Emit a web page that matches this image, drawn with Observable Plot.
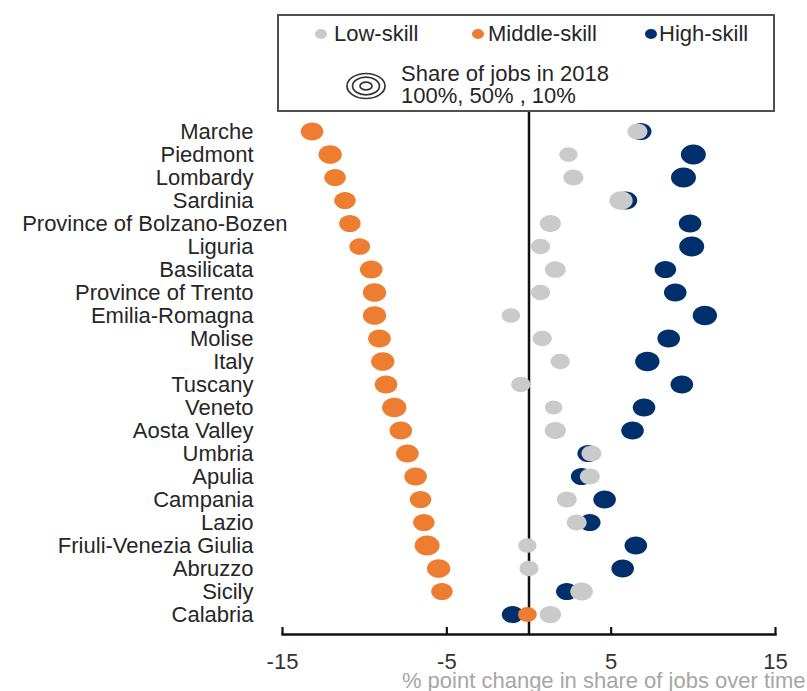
<!DOCTYPE html>
<html>
<head>
<meta charset="utf-8">
<script src="https://cdn.jsdelivr.net/npm/d3@7"></script>
<script src="https://cdn.jsdelivr.net/npm/@observablehq/plot@0.6"></script>
<style>
  html, body { margin: 0; padding: 0; background: #fff; }
  body { width: 807px; height: 691px; overflow: hidden; font-family: "Liberation Sans", Arial, sans-serif; }
  #wrap { position: relative; width: 807px; height: 691px; }
  #chart { position: absolute; left: 0; top: 0; }
  #legend { position: absolute; left: 277px; top: 14px; width: 494px; height: 94px; border: 2px solid #505050; background: #fff; box-sizing: content-box; }
  #legend .t { position: absolute; font-size: 22px; color: #262626; line-height: 22px; transform: translateY(-50%); white-space: nowrap; }
  #legend .d { position: absolute; width: 12px; height: 10px; border-radius: 50%; transform: translate(-50%, -50%); }
</style>
</head>
<body>
<div id="wrap">
  <div id="chart"></div>
  <div id="legend"></div>
</div>
<script>
// ---- data ----
const regions = ["Marche","Piedmont","Lombardy","Sardinia","Province of Bolzano-Bozen","Liguria","Basilicata","Province of Trento","Emilia-Romagna","Molise","Italy","Tuscany","Veneto","Aosta Valley","Umbria","Apulia","Campania","Lazio","Friuli-Venezia Giulia","Abruzzo","Sicily","Calabria"];
// % point change in share of jobs over time
const lowChange    = [6.6, 2.4, 2.7, 5.6, 1.3, 0.7, 1.6, 0.7, -1.1, 0.8, 1.9, -0.5, 1.5, 1.6, 3.8, 3.7, 2.3, 2.9, -0.1, 0.0, 3.2, 1.3];
const middleChange = [-13.2, -12.1, -11.8, -11.2, -10.9, -10.3, -9.6, -9.4, -9.4, -9.1, -8.9, -8.7, -8.2, -7.8, -7.4, -6.9, -6.6, -6.4, -6.2, -5.5, -5.3, -0.1];
const highChange   = [6.8, 10.0, 9.4, 5.9, 9.8, 9.9, 8.3, 8.9, 10.7, 8.5, 7.2, 9.3, 7.0, 6.3, 3.6, 3.2, 4.6, 3.7, 6.5, 5.7, 2.3, -1.0];
// share of jobs in 2018 (%)
const lowShare    = [25, 21, 25, 34, 28, 23, 27, 23, 21, 23, 23, 23, 19, 28, 25, 25, 25, 25, 21, 23, 32, 29];
const middleShare = [32, 34, 29, 29, 29, 27, 32, 34, 34, 32, 34, 32, 37, 32, 32, 32, 29, 29, 39, 34, 29, 22];
const highShare   = [29, 39, 39, 32, 32, 39, 29, 32, 37, 32, 37, 32, 32, 32, 29, 29, 32, 29, 32, 32, 29, 29];
const xTicks = [-15, -5, 5, 15];
const skills = ["Low-skill", "Middle-skill", "High-skill"];
const colors = ["#cacaca", "#ed7d31", "#002f6c"];
const legendShares = [100, 50, 10];
const xTitle = "% point change in share of jobs over time";
const overflowLabel = "Province of Bolzano-Bozen"; // drawn overhanging the axis, as in the reference

const rows = (chg, shr, skill) => regions.map((r, i) => ({region: r, change: chg[i], share: shr[i], skill}));
const lowData = rows(lowChange, lowShare, skills[0]);
const midData = rows(middleChange, middleShare, skills[1]);
const highData = rows(highChange, highShare, skills[2]);

// ellipse symbol (the reference dots are slightly wider than tall)
const ellipse = {
  draw(ctx, size) {
    const r = Math.sqrt(size / Math.PI), rx = r, ry = r * 0.8, k = 0.5523;
    ctx.moveTo(rx, 0);
    ctx.bezierCurveTo(rx, ry * k, rx * k, ry, 0, ry);
    ctx.bezierCurveTo(-rx * k, ry, -rx, ry * k, -rx, 0);
    ctx.bezierCurveTo(-rx, -ry * k, -rx * k, -ry, 0, -ry);
    ctx.bezierCurveTo(rx * k, -ry, rx, -ry * k, rx, 0);
    ctx.closePath();
  }
};

const W = 807, H = 691, mT = 110, mB = 57;
const chart = Plot.plot({
  width: W, height: H,
  marginLeft: 282, marginRight: 32, marginTop: mT, marginBottom: mB,
  style: {fontFamily: "Liberation Sans, Arial, sans-serif", fontSize: "22px", color: "#262626", background: "#fff", overflow: "visible"},
  x: {domain: [-15, 15]},
  y: {type: "point", domain: regions, padding: 0.89},
  r: {type: "sqrt", domain: [0, 100], range: [0, 20]},
  marks: [
    Plot.axisY({tickSize: 0, tickPadding: 29, fontSize: 22, label: null, fill: "#262626",
                tickFormat: d => d === overflowLabel ? "" : d}),
    Plot.text([overflowLabel], {y: d => d, frameAnchor: "left", dx: 5, textAnchor: "end", fontSize: 22, fill: "#262626"}),
    Plot.axisX({ticks: xTicks, tickSize: 0, tickPadding: 19, fontSize: 22, label: null, fill: "#333", tickFormat: d => String(d)}),
    Plot.ruleX(xTicks, {stroke: "#111", strokeWidth: 2.2, insetTop: (H - mT - mB) - 7}),
    Plot.frame({anchor: "bottom", stroke: "#111", strokeWidth: 2.5}),
    Plot.ruleX([0], {stroke: "#111", strokeWidth: 2.5}),
    Plot.dot(highData, {x: "change", y: "region", r: "share", fill: colors[2], symbol: ellipse}),
    Plot.dot(midData, {x: "change", y: "region", r: "share", fill: colors[1], symbol: ellipse}),
    Plot.dot(lowData, {x: "change", y: "region", r: "share", fill: colors[0], symbol: ellipse}),
    Plot.text([xTitle], {frameAnchor: "bottom-right", dx: 30, dy: 46, textAnchor: "end", lineAnchor: "middle", fill: "#a6a6a6", fontSize: 22})
  ]
});
document.getElementById("chart").appendChild(chart);

// ---- legend ----
const lg = document.getElementById("legend");
const dotPos = [[42, 18, 55], [199, 18, 209], [372, 18, 380]];
skills.forEach((s, i) => {
  const d = document.createElement("div");
  d.className = "d";
  d.style.left = dotPos[i][0] + "px"; d.style.top = dotPos[i][1] + "px";
  d.style.background = colors[i];
  lg.appendChild(d);
  const t = document.createElement("div");
  t.className = "t";
  t.style.left = dotPos[i][2] + "px"; t.style.top = dotPos[i][1] + "px";
  t.textContent = s;
  lg.appendChild(t);
});
// ring icon
const ns = "http://www.w3.org/2000/svg";
const icon = document.createElementNS(ns, "svg");
icon.setAttribute("width", 46); icon.setAttribute("height", 34);
icon.style.position = "absolute"; icon.style.left = "64px"; icon.style.top = "53px";
legendShares.forEach(s => {
  const rx = 19 * Math.sqrt(s / 100), ry = 12.5 * Math.sqrt(s / 100);
  const e = document.createElementNS(ns, "ellipse");
  e.setAttribute("cx", 23); e.setAttribute("cy", 17);
  e.setAttribute("rx", Math.max(rx, 4.5)); e.setAttribute("ry", Math.max(ry, 3));
  e.setAttribute("fill", "none"); e.setAttribute("stroke", "#333"); e.setAttribute("stroke-width", 1.7);
  icon.appendChild(e);
});
lg.appendChild(icon);
const l1 = document.createElement("div"); l1.className = "t"; l1.style.left = "122px"; l1.style.top = "58px";
l1.textContent = "Share of jobs in 2018"; lg.appendChild(l1);
const l2 = document.createElement("div"); l2.className = "t"; l2.style.left = "122px"; l2.style.top = "80px";
l2.textContent = legendShares.map(v => v + "%").join(", ").replace(", 10%", " , 10%"); lg.appendChild(l2);
</script>
</body>
</html>
